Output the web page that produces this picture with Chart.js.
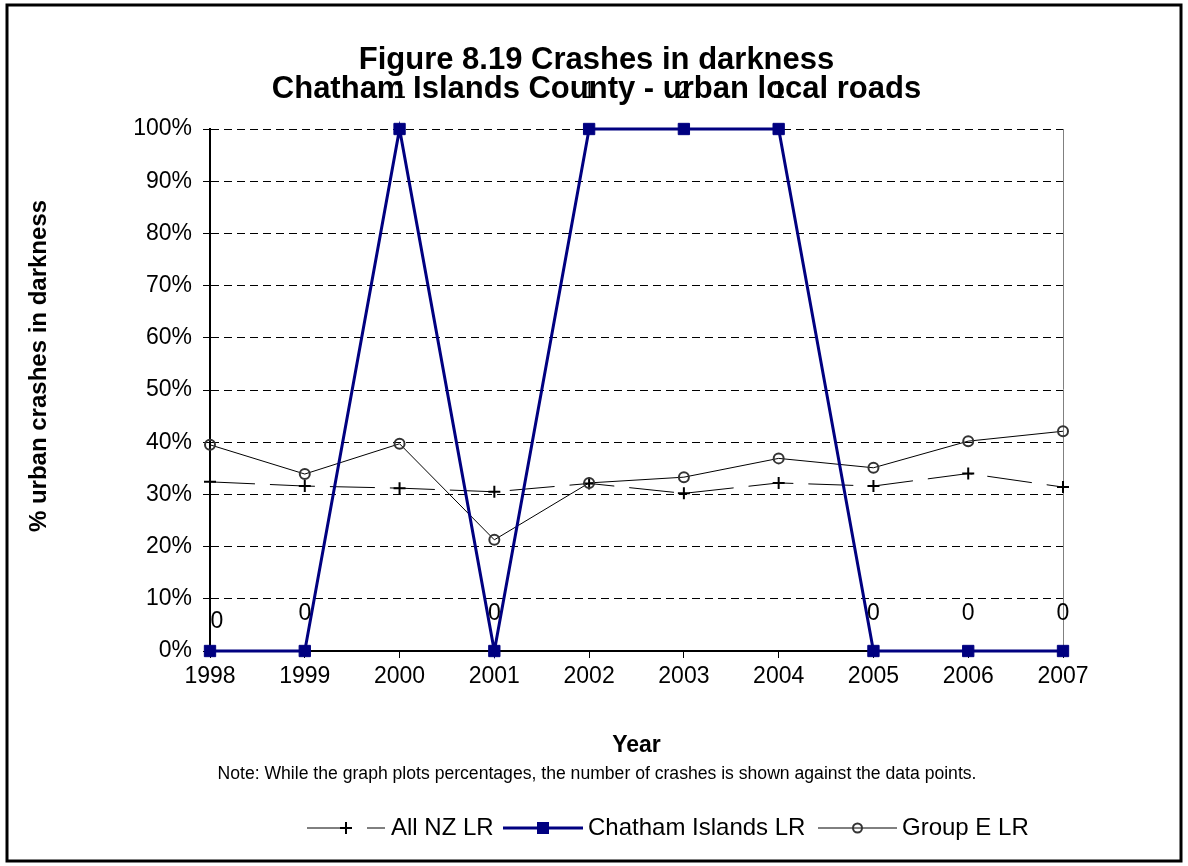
<!DOCTYPE html>
<html>
<head>
<meta charset="utf-8">
<script src="https://cdn.jsdelivr.net/npm/chart.js@4.4.1/dist/chart.umd.min.js"></script>
<style>
html,body{margin:0;padding:0;background:#fff;}
#wrap{width:1188px;height:866px;position:relative;}
canvas{display:block;}
</style>
</head>
<body>
<div id="wrap"><canvas id="c" width="1188" height="866"></canvas></div>
<script>
// ---- data ----
const years = ['1998','1999','2000','2001','2002','2003','2004','2005','2006','2007'];
const allNZ = [32.4, 31.6, 31.2, 30.5, 32.1, 30.2, 32.2, 31.6, 34.0, 31.4];
const chatham = [0, 0, 100, 0, 100, 100, 100, 0, 0, 0];
const chathamCounts = [0, 0, 1, 0, 1, 2, 1, 0, 0, 0];
const groupE = [39.5, 33.9, 39.7, 21.3, 32.2, 33.3, 36.9, 35.1, 40.2, 42.1];
const yTickValues = [0, 10, 20, 30, 40, 50, 60, 70, 80, 90, 100];
const seriesNames = ['All NZ LR', 'Chatham Islands LR', 'Group E LR'];
const titleLines = ['Figure 8.19 Crashes in darkness', 'Chatham Islands County - urban local roads'];
const yTitle = '% urban crashes in darkness';
const xTitle = 'Year';
const noteText = 'Note: While the graph plots percentages, the number of crashes is shown against the data points.';

const FONT = '"Liberation Sans", Arial, sans-serif';
const NAVY = '#000080';

function drawMarker(ctx, style, x, y) {
  ctx.save();
  if (style === 'cross') {
    ctx.strokeStyle = '#000'; ctx.lineWidth = 2;
    ctx.beginPath(); ctx.moveTo(x - 6, y); ctx.lineTo(x + 6, y);
    ctx.moveTo(x, y - 6); ctx.lineTo(x, y + 6); ctx.stroke();
  } else if (style === 'rect') {
    ctx.fillStyle = NAVY; ctx.fillRect(x - 6, y - 6, 12, 12);
  } else {
    ctx.strokeStyle = '#333'; ctx.lineWidth = 2;
    ctx.beginPath(); ctx.arc(x, y, 4.5, 0, Math.PI * 2); ctx.stroke();
  }
  ctx.restore();
}

const extras = {
  id: 'extras',
  beforeDraw(chart) {
    const ctx = chart.ctx;
    ctx.save();
    ctx.fillStyle = '#fff';
    ctx.fillRect(0, 0, chart.width, chart.height);
    ctx.strokeStyle = '#000';
    ctx.lineWidth = 3;
    ctx.strokeRect(7, 5, 1174, 856);
    ctx.restore();
  },
  afterDraw(chart) {
    const ctx = chart.ctx;
    // data labels (crash counts) for Chatham series
    const meta = chart.getDatasetMeta(1);
    ctx.save();
    ctx.font = '23px ' + FONT;
    ctx.fillStyle = '#000';
    ctx.textAlign = 'center';
    ctx.textBaseline = 'middle';
    meta.data.forEach((pt, i) => {
      let dx = 0, dy = -37;
      if (i === 0) { dx = 7; dy = -29; }
      ctx.fillText(String(chathamCounts[i]), pt.x + dx, pt.y + dy);
    });
    ctx.restore();

    // y axis title
    ctx.save();
    ctx.translate(39, 366);
    ctx.rotate(-Math.PI / 2);
    ctx.font = 'bold 24px ' + FONT;
    ctx.fillStyle = '#000';
    ctx.textAlign = 'center';
    ctx.textBaseline = 'middle';
    ctx.fillText(yTitle, 0, 0);
    ctx.restore();

    // note
    ctx.save();
    ctx.font = '17.6px ' + FONT;
    ctx.fillStyle = '#000';
    ctx.textAlign = 'center';
    ctx.textBaseline = 'middle';
    ctx.fillText(noteText, 597, 774);
    ctx.restore();

    // legend
    const ly = 828;
    const items = [
      {x0: 307, x1: 385, color: '#000', width: 1, dash: [45, 15], marker: 'cross', tx: 391},
      {x0: 503, x1: 583, color: NAVY, width: 3, dash: [], marker: 'rect', tx: 588},
      {x0: 818, x1: 897, color: '#000', width: 1, dash: [], marker: 'circle', tx: 902}
    ];
    items.forEach((it, k) => {
      ctx.save();
      ctx.strokeStyle = it.color; ctx.lineWidth = it.width; ctx.setLineDash(it.dash);
      ctx.beginPath(); ctx.moveTo(it.x0, ly); ctx.lineTo(it.x1, ly); ctx.stroke();
      ctx.restore();
      drawMarker(ctx, it.marker, (it.x0 + it.x1) / 2, ly);
      ctx.save();
      ctx.font = '24px ' + FONT;
      ctx.fillStyle = '#000';
      ctx.textAlign = 'left';
      ctx.textBaseline = 'middle';
      ctx.fillText(seriesNames[k], it.tx, ly);
      ctx.restore();
    });
  }
};

new Chart(document.getElementById('c'), {
  type: 'line',
  data: {
    labels: years,
    datasets: [
      {label: seriesNames[0], data: allNZ, borderColor: '#000', borderWidth: 1, borderDash: [45, 15],
       pointStyle: 'cross', pointRadius: 6, pointBorderWidth: 2, pointBorderColor: '#000', pointBackgroundColor: '#000',
       tension: 0, order: 2},
      {label: seriesNames[1], data: chatham, borderColor: NAVY, borderWidth: 3,
       pointStyle: 'rect', pointRadius: 8, pointBorderWidth: 1, pointBorderColor: NAVY, pointBackgroundColor: NAVY,
       tension: 0, order: 0},
      {label: seriesNames[2], data: groupE, borderColor: '#000', borderWidth: 1,
       pointStyle: 'circle', pointRadius: 5, pointBorderWidth: 2, pointBorderColor: '#333', pointBackgroundColor: 'rgba(255,255,255,0)',
       tension: 0, order: 1}
    ]
  },
  options: {
    responsive: false,
    animation: false,
    devicePixelRatio: 1,
    clip: false,
    layout: {padding: {left: 5, right: 0, top: 0, bottom: 105}},
    plugins: {
      legend: {display: false},
      tooltip: {enabled: false},
      title: {
        display: true, text: titleLines, color: '#000',
        font: {family: FONT, size: 31, weight: 'bold', lineHeight: 0.95},
        padding: {top: 45.3, bottom: 24.8}
      }
    },
    scales: {
      x: {
        type: 'category', offset: false,
        afterFit: s => { s.height = 110; },
        grid: {
          color: c => (c.index === years.length - 1 ? '#808080' : 'rgba(0,0,0,0)'),
          lineWidth: 1, drawOnChartArea: true, drawTicks: true,
          tickLength: 7, tickColor: '#000', tickWidth: 1
        },
        border: {display: true, color: '#000', width: 2},
        ticks: {font: {family: FONT, size: 23}, color: '#000', padding: 5, maxRotation: 0, autoSkip: false},
        title: {display: true, text: xTitle, color: '#000', font: {family: FONT, size: 23, weight: 'bold'}, padding: {top: 0, bottom: 2}}
      },
      y: {
        min: 0, max: 100,
        afterFit: s => { s.width = 205; },
        afterBuildTicks: s => { s.ticks = yTickValues.map(v => ({value: v})); },
        grid: {color: '#000', lineWidth: 1, tickLength: 7, tickColor: '#000', tickWidth: 1},
        border: {display: true, color: '#000', width: 2, dash: [8, 5]},
        ticks: {font: {family: FONT, size: 23}, color: '#000', padding: 11, callback: v => v + '%'}
      },
      yRight: {
        position: 'right', display: true,
        afterFit: s => { s.width = 125; },
        grid: {display: false}, border: {display: false}, ticks: {display: false}, title: {display: false}
      }
    }
  },
  plugins: [extras]
});
</script>
</body>
</html>
